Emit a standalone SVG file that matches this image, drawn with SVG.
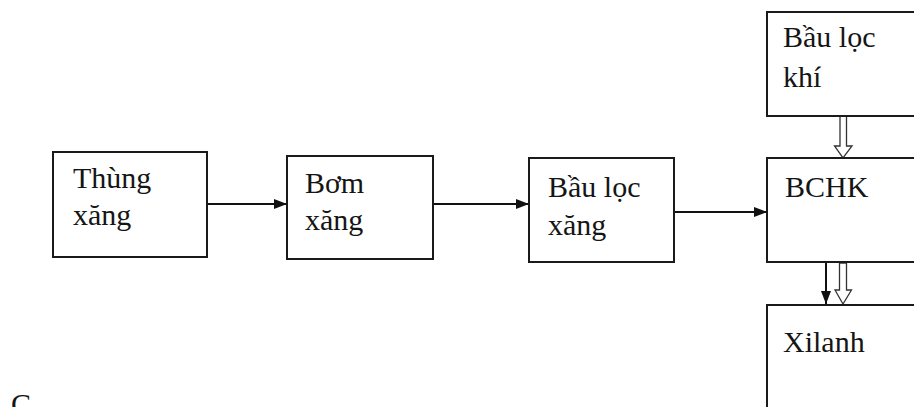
<svg xmlns="http://www.w3.org/2000/svg" width="914" height="407" viewBox="0 0 914 407">
<defs>
<style>
.box{fill:#fff;stroke:#1a1a1a;stroke-width:2}
.t{font-family:"Liberation Serif","Times New Roman",serif;font-size:30px;fill:#151515}
.ln{stroke:#111;stroke-width:2;fill:none}
.hollow{fill:#fff;stroke:#333;stroke-width:1.3}
</style>
<marker id="ah" markerUnits="userSpaceOnUse" markerWidth="14" markerHeight="12" refX="13" refY="5" orient="auto">
<path d="M0,0 L13,5 L0,10 Z" fill="#111"/>
</marker>
</defs>
<rect width="914" height="407" fill="#fff"/>
<g id="connectors">
<line class="ln" x1="207" y1="204" x2="287" y2="204" marker-end="url(#ah)"/>
<line class="ln" x1="433" y1="204" x2="529" y2="204" marker-end="url(#ah)"/>
<line class="ln" x1="674" y1="212" x2="767" y2="212" marker-end="url(#ah)"/>
<line class="ln" x1="826" y1="262" x2="826" y2="304" marker-end="url(#ah)"/>
<path class="hollow" d="M840,116 L846.5,116 L846.5,146 L852,146 L843,158 L834.5,146 L840,146 Z"/>
<path class="hollow" d="M839.5,263 L846.5,263 L846.5,290 L851.5,290 L843,304 L835,290 L839.5,290 Z"/>
</g>
<g id="n-thung-xang">
<rect class="box" x="53" y="152" width="154" height="105"/>
<text class="t" x="73" y="188">Thùng</text>
<text class="t" x="73" y="225">xăng</text>
</g>
<g id="n-bom-xang">
<rect class="box" x="287" y="156" width="146" height="103"/>
<text class="t" x="305" y="193">Bơm</text>
<text class="t" x="305" y="230">xăng</text>
</g>
<g id="n-bau-loc-xang">
<rect class="box" x="529" y="158" width="145" height="104"/>
<text class="t" x="548" y="197">Bầu lọc</text>
<text class="t" x="548" y="235">xăng</text>
</g>
<g id="n-bau-loc-khi">
<rect class="box" x="767" y="12" width="170" height="104"/>
<text class="t" x="783" y="47">Bầu lọc</text>
<text class="t" x="783" y="87">khí</text>
</g>
<g id="n-bchk">
<rect class="box" x="767" y="158" width="170" height="104"/>
<text class="t" x="785" y="197">BCHK</text>
</g>
<g id="n-xilanh">
<rect class="box" x="767" y="305" width="170" height="130"/>
<text class="t" x="783" y="352">Xilanh</text>
</g>
<text class="t" x="11" y="414">C</text>
</svg>
